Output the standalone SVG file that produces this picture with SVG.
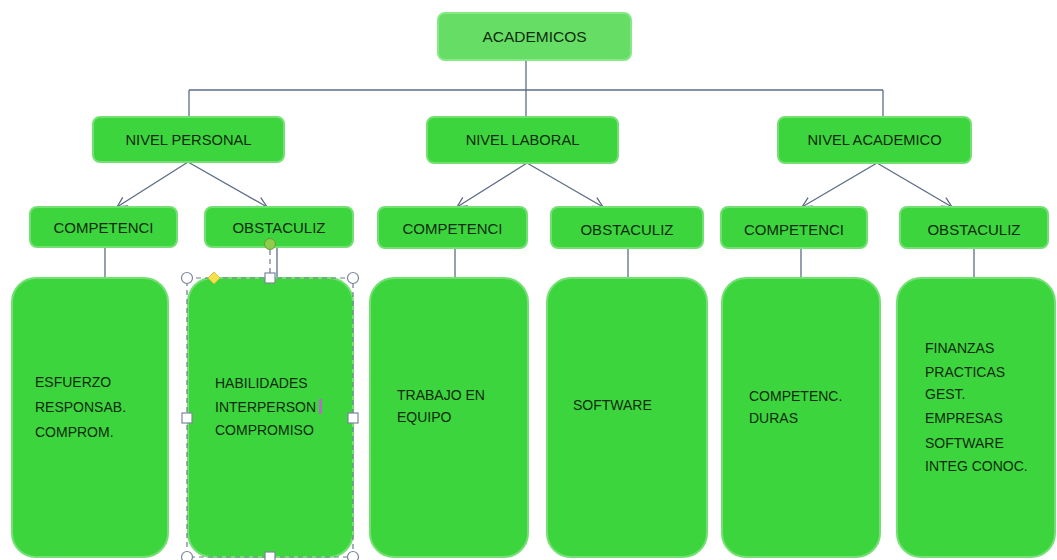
<svg xmlns="http://www.w3.org/2000/svg" width="1057" height="560" viewBox="0 0 1057 560">
<style>
.bg{fill:#ffffff}
.n{fill:#3dd53d;stroke:#74e074;stroke-width:2}
.top{fill:#66de66;stroke:#86e886;stroke-width:2}
.t{font-family:"Liberation Sans",Arial,sans-serif;font-size:14px;fill:#0f2b0f}
.c{text-anchor:middle;dominant-baseline:central}
.m{font-size:14.7px}
.s{font-size:15px}
.ln{stroke:#5b6c85;stroke-width:1.3;fill:none}
.sel{fill:none;stroke:#6b7a8e;stroke-width:1.2;stroke-dasharray:5 4}
.h{fill:#ffffff;stroke:#7a8799;stroke-width:1.2}
</style>
<defs>
<marker id="arr" viewBox="0 0 12 12" refX="11" refY="6" markerWidth="12" markerHeight="12" markerUnits="userSpaceOnUse" orient="auto">
<path d="M1,1 L11,6 L1,11" fill="none" stroke="#5b6c85" stroke-width="1.3"/>
</marker>
</defs>
<rect class="bg" x="0" y="0" width="1057" height="560"/>

<g id="connectors">
<line class="ln" x1="526" y1="60" x2="526" y2="117"/>
<line class="ln" x1="189" y1="90" x2="883" y2="90"/>
<line class="ln" x1="189" y1="90" x2="189" y2="117"/>
<line class="ln" x1="883" y1="90" x2="883" y2="117"/>
<line class="ln" x1="188" y1="162" x2="117" y2="207" marker-end="url(#arr)"/>
<line class="ln" x1="188" y1="162" x2="267" y2="207" marker-end="url(#arr)"/>
<line class="ln" x1="527" y1="163" x2="457" y2="207" marker-end="url(#arr)"/>
<line class="ln" x1="527" y1="163" x2="603" y2="207" marker-end="url(#arr)"/>
<line class="ln" x1="877" y1="163" x2="802" y2="207" marker-end="url(#arr)"/>
<line class="ln" x1="877" y1="163" x2="952" y2="207" marker-end="url(#arr)"/>
<line class="ln" x1="105" y1="247" x2="105" y2="278"/>
<line class="ln" x1="277" y1="247" x2="277" y2="278"/>
<line class="ln" x1="455" y1="248" x2="455" y2="278"/>
<line class="ln" x1="628" y1="248" x2="628" y2="278"/>
<line class="ln" x1="801" y1="248" x2="801" y2="278"/>
<line class="ln" x1="974" y1="248" x2="974" y2="278"/>
</g>

<g id="academicos">
<rect class="top" x="438" y="13" width="193" height="47" rx="7"/>
<text class="t c" x="534.5" y="36.5" style="font-size:15.5px">ACADEMICOS</text>
</g>

<g id="nivel-personal">
<rect class="n" x="93" y="117" width="191" height="45" rx="7"/>
<text class="t c m" x="188.5" y="139.5">NIVEL PERSONAL</text>
</g>
<g id="nivel-laboral">
<rect class="n" x="427" y="117" width="191" height="46" rx="7"/>
<text class="t c m" x="522.5" y="140">NIVEL LABORAL</text>
</g>
<g id="nivel-academico">
<rect class="n" x="778" y="117" width="193" height="46" rx="7"/>
<text class="t c m" x="874.5" y="140">NIVEL ACADEMICO</text>
</g>

<g id="competenci-1">
<rect class="n" x="30" y="207" width="147" height="40" rx="7"/>
<text class="t c s" x="103.5" y="227">COMPETENCI</text>
</g>
<g id="obstaculiz-1">
<rect class="n" x="205" y="207" width="148" height="40" rx="7"/>
<text class="t c s" x="279" y="227">OBSTACULIZ</text>
</g>
<g id="competenci-2">
<rect class="n" x="378" y="207" width="149" height="41" rx="7"/>
<text class="t c s" x="452.5" y="228">COMPETENCI</text>
</g>
<g id="obstaculiz-2">
<rect class="n" x="551" y="207" width="152" height="41" rx="7"/>
<text class="t c s" x="627" y="229">OBSTACULIZ</text>
</g>
<g id="competenci-3">
<rect class="n" x="721" y="207" width="146" height="41" rx="7"/>
<text class="t c s" x="794" y="229">COMPETENCI</text>
</g>
<g id="obstaculiz-3">
<rect class="n" x="900" y="207" width="148" height="41" rx="7"/>
<text class="t c s" x="974" y="229">OBSTACULIZ</text>
</g>

<g id="box-esfuerzo">
<rect class="n" x="12" y="278" width="156" height="279" rx="24"/>
<text class="t" x="35" y="387">ESFUERZO</text>
<text class="t" x="35" y="412">RESPONSAB.</text>
<text class="t" x="35" y="437">COMPROM.</text>
</g>

<g id="box-habilidades">
<rect class="n" x="188" y="278" width="165" height="279" rx="24"/>
<text class="t" x="215" y="388">HABILIDADES</text>
<text class="t" x="215" y="412">INTERPERSON</text>
<text class="t" x="215" y="435">COMPROMISO</text>
<rect x="319" y="399" width="3" height="15" fill="#b070c0"/>
</g>

<g id="selection">
<rect class="sel" x="187" y="278" width="166" height="279"/>
<line class="sel" x1="270" y1="250" x2="270" y2="274"/>
<circle cx="270" cy="244" r="5.5" fill="#8fce4a" stroke="#6a9a40" stroke-width="1"/>
<circle class="h" cx="187" cy="278" r="5.5"/>
<circle class="h" cx="353" cy="278" r="5.5"/>
<circle class="h" cx="187" cy="557" r="5.5"/>
<circle class="h" cx="353" cy="557" r="5.5"/>
<rect class="h" x="265" y="273" width="10" height="10"/>
<rect class="h" x="182" y="413" width="10" height="10"/>
<rect class="h" x="348" y="413" width="10" height="10"/>
<rect class="h" x="265" y="552" width="10" height="10"/>
<path d="M214,272 L220,278 L214,284 L208,278 Z" fill="#f5e04a" stroke="#c9b83a" stroke-width="0.8"/>
</g>

<g id="box-trabajo">
<rect class="n" x="370" y="278" width="158" height="279" rx="24"/>
<text class="t" x="397" y="400">TRABAJO EN</text>
<text class="t" x="397" y="422">EQUIPO</text>
</g>

<g id="box-software">
<rect class="n" x="547" y="278" width="160" height="279" rx="24"/>
<text class="t" x="573" y="410">SOFTWARE</text>
</g>

<g id="box-duras">
<rect class="n" x="722" y="278" width="158" height="279" rx="24"/>
<text class="t" x="749" y="401">COMPETENC.</text>
<text class="t" x="749" y="423">DURAS</text>
</g>

<g id="box-finanzas">
<rect class="n" x="897" y="278" width="158" height="279" rx="24"/>
<text class="t" x="925" y="353">FINANZAS</text>
<text class="t" x="925" y="377">PRACTICAS</text>
<text class="t" x="925" y="399">GEST.</text>
<text class="t" x="925" y="423">EMPRESAS</text>
<text class="t" x="925" y="448">SOFTWARE</text>
<text class="t" x="925" y="471">INTEG CONOC.</text>
</g>
</svg>
